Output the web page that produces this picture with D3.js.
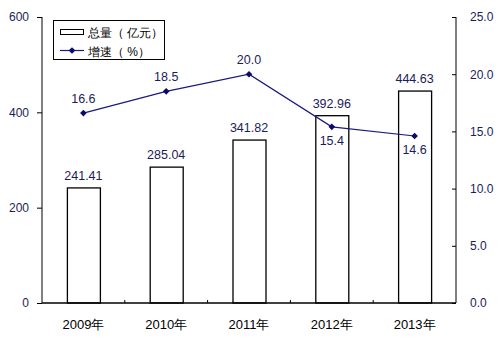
<!DOCTYPE html>
<html>
<head>
<meta charset="utf-8">
<script src="https://cdn.jsdelivr.net/npm/d3@7"></script>
<style>
  body { margin: 0; background: #fff; }
  svg { display: block; }
  text { font-family: "Liberation Sans", Arial, sans-serif; }
</style>
</head>
<body>
<svg id="chart" width="500" height="337"></svg>
<script>
// Total amount (100 million yuan) and growth rate (%) by year
const years = ["2009年", "2010年", "2011年", "2012年", "2013年"];
const totals = [241.41, 285.04, 341.82, 392.96, 444.63];
const growth = [16.6, 18.5, 20.0, 15.4, 14.6];
const leftTicks = [0, 200, 400, 600];
const rightTicks = [0, 5, 10, 15, 20, 25];
// growth labels placed below the point instead of above
const growthBelow = [false, false, false, true, true];

const svg = d3.select("#chart");
const m = { left: 42, right: 456, top: 17, bottom: 303 };

const x = d3.scaleBand().domain(years).range([m.left, m.right]);
const yL = d3.scaleLinear().domain([0, 600]).range([m.bottom, m.top]);
const yR = d3.scaleLinear().domain([0, 25]).range([m.bottom, m.top]);

const numColor = "#1c1c5a";

// left axis
const gL = svg.append("g").attr("transform", `translate(${m.left},0)`)
  .call(d3.axisLeft(yL).tickValues(leftTicks).tickSize(5).tickPadding(8).tickFormat(d3.format("d")));
// right axis (ticks point inward)
const gR = svg.append("g").attr("transform", `translate(${m.right},0)`)
  .call(d3.axisRight(yR).tickValues(rightTicks).tickSize(-4).tickPadding(14).tickFormat(d3.format(".1f")));
[gL, gR].forEach(g => {
  g.select(".domain").attr("stroke", "#000").attr("d", `M0,${m.top}V${m.bottom}`);
  g.selectAll(".tick line").attr("stroke", "#000");
  g.selectAll("text").attr("font-size", 12).attr("fill", numColor);
});

// bars
const barW = 33;
svg.append("g").selectAll("rect").data(totals).join("rect")
  .attr("x", (d, i) => x(years[i]) + x.bandwidth() / 2 - barW / 2 + 0.5)
  .attr("y", d => yL(d))
  .attr("width", barW)
  .attr("height", d => yL(0) - yL(d))
  .attr("fill", "#fff").attr("stroke", "#000").attr("stroke-width", 1.3);

// bottom axis: category boundary ticks pointing up
const gB = svg.append("g").attr("transform", `translate(0,${m.bottom})`)
  .call(d3.axisBottom(x).tickSize(0).tickPadding(17));
gB.select(".domain").attr("stroke", "#000").attr("stroke-width", 1.3).attr("d", `M${m.left},0H${m.right}`);
gB.selectAll("text").attr("font-size", 13).attr("fill", "#000")
  .attr("font-family", "'Noto Sans CJK SC', 'Liberation Sans', sans-serif");
svg.append("g").selectAll("line").data(years.slice(1)).join("line")
  .attr("x1", d => x(d)).attr("x2", d => x(d))
  .attr("y1", m.bottom).attr("y2", m.bottom - 3)
  .attr("stroke", "#000");

// bar value labels
svg.append("g").selectAll("text").data(totals).join("text")
  .attr("x", (d, i) => x(years[i]) + x.bandwidth() / 2)
  .attr("y", d => yL(d) - 8)
  .attr("text-anchor", "middle").attr("font-size", 12.5).attr("fill", numColor)
  .text(d => d.toFixed(2));

// growth line
const cx = (i) => x(years[i]) + x.bandwidth() / 2;
const line = d3.line().x((d, i) => cx(i)).y(d => yR(d));
svg.append("path").datum(growth).attr("d", line)
  .attr("fill", "none").attr("stroke", "#1a1a80").attr("stroke-width", 1.2);
svg.append("g").selectAll("path").data(growth).join("path")
  .attr("d", d3.symbol(d3.symbolDiamond2, 28))
  .attr("transform", (d, i) => `translate(${cx(i)},${yR(d)})`)
  .attr("fill", "#0a0a6e");
svg.append("g").selectAll("text").data(growth).join("text")
  .attr("x", (d, i) => cx(i))
  .attr("y", (d, i) => growthBelow[i] ? yR(d) + 18 : yR(d) - 10)
  .attr("text-anchor", "middle").attr("font-size", 12.5).attr("fill", numColor)
  .text(d => d.toFixed(1));

// legend
const lg = svg.append("g");
lg.append("rect").attr("x", 53.5).attr("y", 20.5).attr("width", 111).attr("height", 39)
  .attr("fill", "#fff").attr("stroke", "#000");
lg.append("rect").attr("x", 60.5).attr("y", 29.5).attr("width", 23).attr("height", 5)
  .attr("fill", "#fff").attr("stroke", "#000");
lg.append("line").attr("x1", 60).attr("x2", 84).attr("y1", 50.5).attr("y2", 50.5)
  .attr("stroke", "#1a1a80").attr("stroke-width", 1.2);
lg.append("path").attr("d", d3.symbol(d3.symbolDiamond2, 28))
  .attr("transform", "translate(72,50.5)").attr("fill", "#0a0a6e");
const legendText = ["总量（ 亿元）", "增速（ %）"];
lg.selectAll("text.lt").data(legendText).join("text")
  .attr("class", "lt")
  .attr("x", 88).attr("y", (d, i) => 37 + i * 19)
  .attr("font-size", 12).attr("fill", "#000")
  .attr("font-family", "'Noto Sans CJK SC', sans-serif")
  .text(d => d);
</script>
</body>
</html>
